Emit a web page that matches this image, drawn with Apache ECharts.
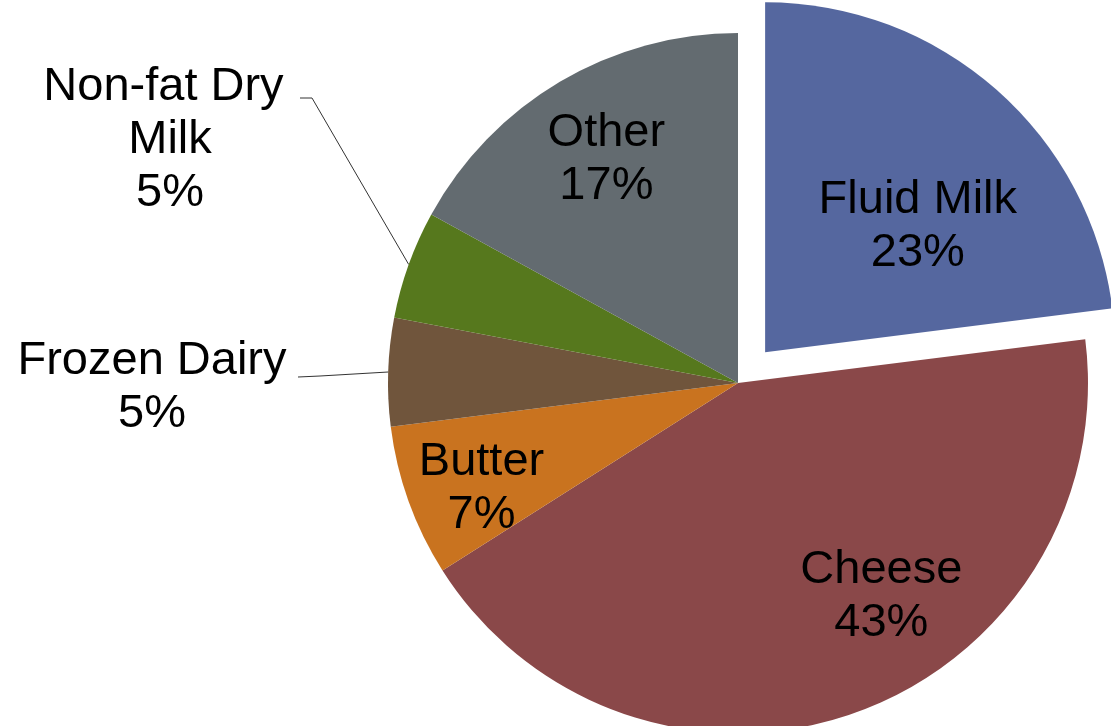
<!DOCTYPE html>
<html>
<head>
<meta charset="utf-8">
<script src="https://cdn.jsdelivr.net/npm/echarts@6/dist/echarts.min.js"></script>
<style>
html,body{margin:0;padding:0;background:#fff;}
#chart{width:1111px;height:726px;}
</style>
</head>
<body>
<div id="chart"></div>
<script>
var categories = ['Fluid Milk', 'Cheese', 'Butter', 'Frozen Dairy', 'Non-fat Dry Milk', 'Other'];
var shares = [23, 43, 7, 5, 5, 17];
var colors = ['#55679F', '#8A4849', '#C9731F', '#70553C', '#56781D', '#636B70'];

var insideOffsets = {0: [35, 8], 1: [83, 46], 2: [-89, 45], 5: [-41, -70]};

var data = categories.map(function (name, i) {
  var item = {
    name: name,
    value: shares[i],
    itemStyle: { color: colors[i] },
    select: { itemStyle: { color: colors[i] } }
  };
  if (i === 0) item.selected = true;
  if (i === 3 || i === 4) {
    item.label = { position: 'outside' };
    item.labelLine = { show: true };
    if (i === 4) { item.label.width = 270; item.label.overflow = 'break'; }
  } else {
    item.label = { position: 'inside', offset: insideOffsets[i] };
    item.select.label = { offset: insideOffsets[i] };
    item.labelLine = { show: false };
  }
  return item;
});

var chart = echarts.init(document.getElementById('chart'), null, { renderer: 'canvas' });
chart.setOption({
  animation: false,
  backgroundColor: '#ffffff',
  series: [{
    type: 'pie',
    center: [738, 383],
    radius: 350,
    startAngle: 90,
    clockwise: true,
    selectedMode: 'single',
    selectedOffset: 41,
    avoidLabelOverlap: false,
    emphasis: { disabled: true },
    itemStyle: { borderWidth: 0 },
    label: {
      show: true,
      formatter: '{b}\n{d}%',
      color: '#000000',
      fontFamily: 'Liberation Sans, Arial, sans-serif',
      fontSize: 47,
      lineHeight: 53,
      align: 'center'
    },
    labelLine: {
      lineStyle: { color: '#333333', width: 1 },
      length: 20,
      length2: 10
    },
    labelLayout: function (p) {
      var pts = p.labelLinePoints;
      if (p.dataIndex === 4) {
        return {
          x: 170, y: 140, align: 'center', verticalAlign: 'middle',
          labelLinePoints: pts ? [pts[0], [312, 98], [300, 98]] : undefined
        };
      }
      if (p.dataIndex === 3) {
        return {
          x: 152, y: 388, align: 'center', verticalAlign: 'middle',
          labelLinePoints: pts ? [pts[0], [320, 376], [298, 377]] : undefined
        };
      }
    },
    data: data
  }]
});
</script>
</body>
</html>
